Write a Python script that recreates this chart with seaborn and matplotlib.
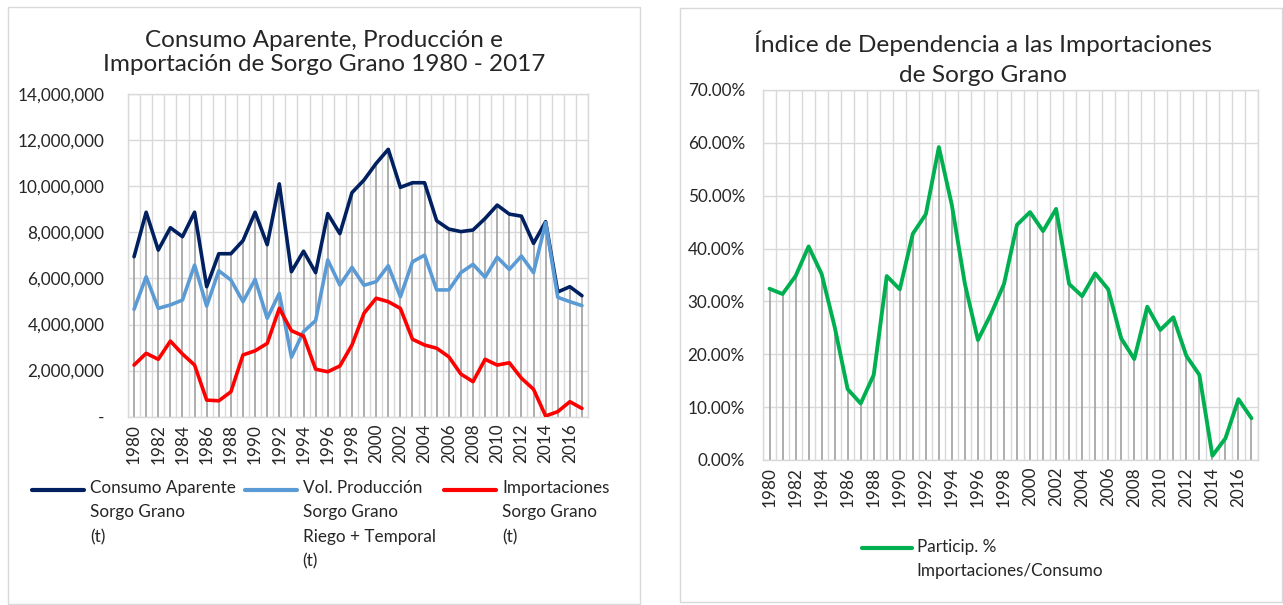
# Sorgo grano: consumo aparente, produccion, importaciones y dependencia

import numpy as np
import pandas as pd
import matplotlib.pyplot as plt
import seaborn as sns
from matplotlib.patches import Rectangle
from matplotlib.ticker import FuncFormatter, MultipleLocator

# ========== DATA ==========
years = list(range(1980, 2018))

consumo = [6.94, 8.87, 7.23, 8.20, 7.81, 8.87, 5.64, 7.07, 7.07, 7.64,
           8.87, 7.46, 10.10, 6.29, 7.18, 6.25, 8.81, 7.94, 9.72, 10.27,
           10.99, 11.60, 9.95, 10.15, 10.15, 8.50, 8.14, 8.03, 8.10, 8.60,
           9.18, 8.79, 8.70, 7.52, 8.46, 5.41, 5.64, 5.25]

produccion = [4.66, 6.07, 4.70, 4.85, 5.06, 6.58, 4.80, 6.33, 5.93, 4.99,
              5.96, 4.27, 5.35, 2.58, 3.69, 4.17, 6.80, 5.71, 6.48, 5.70,
              5.86, 6.55, 5.20, 6.72, 7.01, 5.50, 5.50, 6.25, 6.61, 6.05,
              6.92, 6.39, 6.97, 6.25, 8.42, 5.18, 4.99, 4.82]

importaciones = [2.24, 2.75, 2.49, 3.28, 2.72, 2.24, 0.72, 0.69, 1.08, 2.68,
                 2.86, 3.18, 4.70, 3.73, 3.50, 2.06, 1.95, 2.20, 3.11, 4.49,
                 5.14, 4.99, 4.70, 3.36, 3.11, 2.97, 2.60, 1.85, 1.52, 2.49,
                 2.24, 2.34, 1.67, 1.19, 0.03, 0.22, 0.65, 0.36]

particip = [32.4, 31.4, 34.8, 40.4, 35.2, 25.2, 13.4, 10.7, 16.1, 34.8,
            32.3, 42.8, 46.5, 59.2, 48.2, 33.3, 22.7, 27.6, 33.3, 44.5,
            46.9, 43.3, 47.5, 33.3, 31.0, 35.3, 32.3, 23.0, 19.1, 29.0,
            24.6, 27.0, 19.7, 16.1, 0.8, 4.1, 11.5, 7.9]

# trailing blank line keeps every legend entry at 4 lines so the first lines line up
series_left = ["Consumo Aparente\nSorgo Grano\n(t)\n ",
               "Vol. Producción\nSorgo Grano\nRiego + Temporal\n(t)",
               "Importaciones\nSorgo Grano\n(t)\n "]
serie_right = "Particip. %\nImportaciones/Consumo"

title_left = "Consumo Aparente, Producción e\nImportación de Sorgo Grano 1980 - 2017"
title_right = "Índice de Dependencia a las Importaciones\nde Sorgo Grano"

colors_left = ["#002060", "#5B9BD5", "#FF0000"]
color_right = "#00B050"

# ========== BUILD TABLES ==========
df_left = pd.DataFrame({
    "year": years * 3,
    "value": np.concatenate([consumo, produccion, importaciones]) * 1e6,
    "serie": np.repeat(series_left, len(years)),
})
df_right = pd.DataFrame({"year": years, "value": particip, "serie": serie_right})

# ========== STYLE ==========
sns.set_theme(style="white")
plt.rcParams["font.family"] = ["Lato", "DejaVu Sans"]
GRID = "#D9D9D9"
DROP = "#A0A0A0"
TXT = "#262626"
FS = 12.3          # tick / legend font size
LS = 1.65          # legend line spacing
PITCH = 17.0       # legend line pitch in points (approx)

fig = plt.figure(figsize=(12.83, 6.05), dpi=100)

# chart boxes
fig.add_artist(Rectangle((8 / 1283, 0.002), 632 / 1283, 1 - 8 / 605,
                         transform=fig.transFigure, fill=False, edgecolor=GRID, lw=1))
fig.add_artist(Rectangle((680 / 1283, 3 / 605), 602 / 1283, 1 - 11 / 605,
                         transform=fig.transFigure, fill=False, edgecolor=GRID, lw=1))

ax1 = fig.add_axes([128 / 1283, 1 - 416.7 / 605, 460 / 1283, 322.7 / 605])
ax2 = fig.add_axes([763 / 1283, 1 - 460 / 605, 495 / 1283, 370 / 605])


def excel_axes(ax, ymax, ystep, ypad):
    ax.set_xlim(1979.5, 2017.5)
    ax.set_ylim(0, ymax)
    ax.set_xticks(range(1980, 2018, 2))
    ax.set_xticks(np.arange(1979.5, 2018, 1), minor=True)
    ax.yaxis.set_major_locator(MultipleLocator(ystep))
    ax.grid(False)
    ax.grid(True, which="minor", axis="x", color=GRID, lw=1, zorder=0)
    ax.grid(True, which="major", axis="y", color=GRID, lw=1, zorder=0)
    ax.set_axisbelow(True)
    for s in ax.spines.values():
        s.set_color(GRID)
        s.set_linewidth(1)
    ax.tick_params(axis="both", which="both", length=0, colors=TXT, labelsize=FS)
    ax.tick_params(axis="y", pad=ypad)
    ax.tick_params(axis="x", pad=5, labelrotation=90)
    ax.set_xlabel("")
    ax.set_ylabel("")


def lift_handles(leg, nlines):
    # move legend line handles up to the first text line
    for h in leg.legend_handles:
        h.set_ydata(np.asarray(h.get_ydata()) + (nlines - 1) / 2 * PITCH)
        h.set_linewidth(3)
    for t in leg.get_texts():
        t.set_linespacing(LS)


# ========== LEFT CHART ==========
ax1.vlines(years, 0, df_left.groupby("year")["value"].max().values,
           color=DROP, lw=1.2, zorder=1)
sns.lineplot(data=df_left, x="year", y="value", hue="serie", hue_order=series_left,
             palette=colors_left, linewidth=2.6, ax=ax1, zorder=3)
excel_axes(ax1, 14e6, 2e6, 17)
ax1.yaxis.set_major_formatter(FuncFormatter(lambda v, p: "-" if v == 0 else f"{v:,.0f}"))

leg1 = ax1.legend(loc="upper left", bbox_to_anchor=(32 / 1283, 1 - 480 / 605),
                  bbox_transform=fig.transFigure, ncol=3, frameon=False, fontsize=FS,
                  handlelength=3.05, handletextpad=0.35, columnspacing=0.5,
                  borderpad=0, borderaxespad=0, labelcolor=TXT)
lift_handles(leg1, 4)

fig.text(324 / 1283, 1 - 52.5 / 605, title_left, ha="center", va="center",
         fontsize=17.5, color=TXT, linespacing=1.22)

# ========== RIGHT CHART ==========
ax2.vlines(years, 0, particip, color=DROP, lw=1.2, zorder=1)
sns.lineplot(data=df_right, x="year", y="value", hue="serie",
             palette=[color_right], linewidth=2.8, ax=ax2, zorder=3)
excel_axes(ax2, 70, 10, 13)
ax2.yaxis.set_major_formatter(FuncFormatter(lambda v, p: f"{v:.2f}%"))

leg2 = ax2.legend(loc="upper left", bbox_to_anchor=(862 / 1283, 1 - 539 / 605),
                  bbox_transform=fig.transFigure, frameon=False, fontsize=FS,
                  handlelength=2.95, handletextpad=0.25, borderpad=0,
                  borderaxespad=0, labelcolor=TXT)
lift_handles(leg2, 2)

fig.text(983 / 1283, 1 - 58 / 605, title_right, ha="center", va="center",
         fontsize=17.6, color=TXT, linespacing=1.5)

plt.savefig("out.png", dpi=100)
